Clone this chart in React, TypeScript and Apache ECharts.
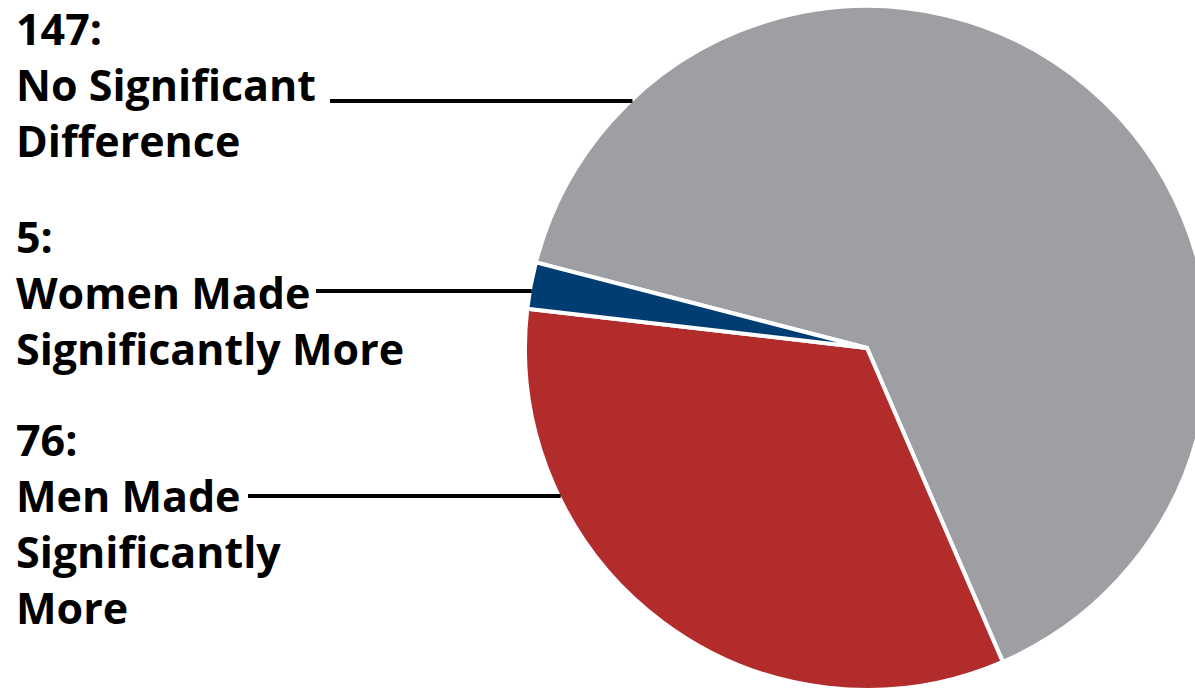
import React, { useEffect, useRef } from "react";
import * as echarts from "echarts";

const categories = ["No Significant Difference", "Men Made Significantly More", "Women Made Significantly More"];
const counts = [147, 76, 5];
const colors = ["#9d9fa2", "#b22c2c", "#003d73"];

const labelLines = [
  ["147:", "No Significant", "Difference"],
  ["5:", "Women Made", "Significantly More"],
  ["76:", "Men Made", "Significantly", "More"],
];
const labelTop = [28, 236, 439];
const leaderY = [101, 291, 496];
const leaderStart = [330, 316, 248];

const CX = 867;
const CY = 348;
const R = 342;
const LINE_H = 56;

export default function App() {
  const ref = useRef<HTMLDivElement>(null);
  useEffect(() => {
    document.body.style.margin = "0";
    const chart = echarts.init(ref.current!, null, { renderer: "svg" });
    const graphics: any[] = [];
    labelLines.forEach((lines, gi) => {
      lines.forEach((t, li) => {
        graphics.push({
          type: "text",
          x: 16,
          y: labelTop[gi] + li * LINE_H,
          style: {
            text: t,
            fill: "#000",
            font: "bold 43px 'Open Sans', sans-serif",
            textVerticalAlign: "middle",
            textAlign: "left",
          },
        });
      });
      const y = leaderY[gi];
      const xEnd = CX - Math.sqrt(R * R - (y - CY) * (y - CY));
      graphics.push({
        type: "line",
        shape: { x1: leaderStart[gi], y1: y, x2: xEnd + 2, y2: y },
        style: { stroke: "#000", lineWidth: 4 },
        z: 10,
      });
    });
    chart.setOption({
      animation: false,
      backgroundColor: "#fff",
      series: [
        {
          type: "pie",
          center: [CX, CY],
          radius: R,
          startAngle: 165.5,
          clockwise: true,
          label: { show: false },
          labelLine: { show: false },
          itemStyle: { borderColor: "#fff", borderWidth: 4 },
          emphasis: { disabled: true },
          data: categories.map((c, i) => ({ name: c, value: counts[i], itemStyle: { color: colors[i] } })),
        },
      ],
      graphic: graphics,
    });
    return () => chart.dispose();
  }, []);
  return <div ref={ref} style={{ width: 1195, height: 689 }} />;
}
